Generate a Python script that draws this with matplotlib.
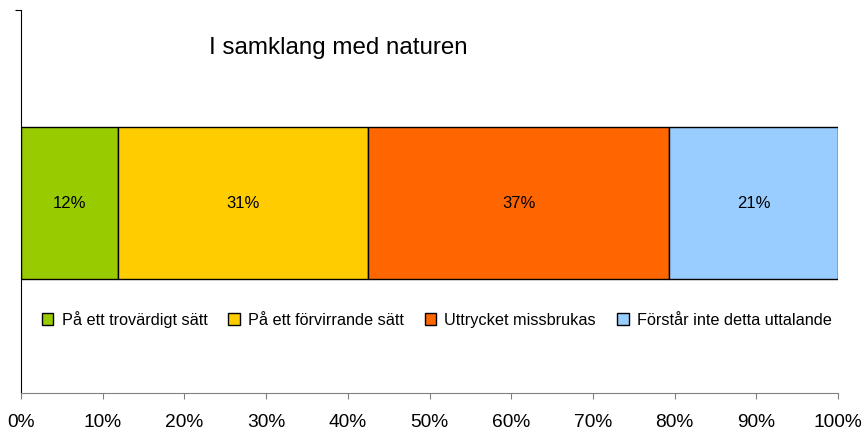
import numpy as np
import matplotlib.pyplot as plt
from matplotlib.patches import Rectangle

# data
categories = ['På ett trovärdigt sätt', 'På ett förvirrande sätt',
              'Uttrycket missbrukas', 'Förstår inte detta uttalande']
values = [11.9, 30.6, 36.8, 20.7]
labels = ['12%', '31%', '37%', '21%']
colors = ['#99CC00', '#FFCC00', '#FF6600', '#99CCFF']
xticks = [0, 10, 20, 30, 40, 50, 60, 70, 80, 90, 100]

fig = plt.figure(figsize=(8.66, 4.30), dpi=100)
ax = fig.add_axes([21/866, 37/430, 817/866, 383/430])

left = 0
handles = []
for v, lab, c, cat in zip(values, labels, colors, categories):
    ax.barh(0.496, v, left=left, height=0.397, color=c, edgecolor='black', linewidth=1)
    ax.text(left + v/2, 0.496, lab, ha='center', va='center', fontsize=12, family='Liberation Sans')
    handles.append(Rectangle((0, 0), 1, 1, facecolor=c, edgecolor='black', linewidth=1, label=cat))
    left += v

ax.set_xlim(0, 100)
ax.set_ylim(0, 1)
ax.set_xticks(xticks)
ax.set_xticklabels([f'{t}%' for t in xticks], fontsize=13.8, family='Liberation Sans')
ax.set_yticks([1])
ax.set_yticklabels([])
ax.tick_params(axis='x', length=4, color='#808080', pad=11)
ax.tick_params(axis='y', length=4, color='black')

ax.spines['top'].set_visible(False)
ax.spines['right'].set_visible(False)
ax.spines['bottom'].set_color('#808080')
ax.spines['left'].set_color('black')

ax.text(0.388, 0.90, 'I samklang med naturen', transform=ax.transAxes,
        ha='center', va='center', fontsize=17.4, family='Liberation Sans')

ax.legend(handles=handles, loc='center', bbox_to_anchor=(0.509, 0.193), ncol=4,
          frameon=False, handlelength=0.7, handleheight=0.7, handletextpad=0.5,
          columnspacing=1.3, prop={'family': 'Liberation Sans', 'size': 11.7})

fig.savefig('out.png', dpi=100)
